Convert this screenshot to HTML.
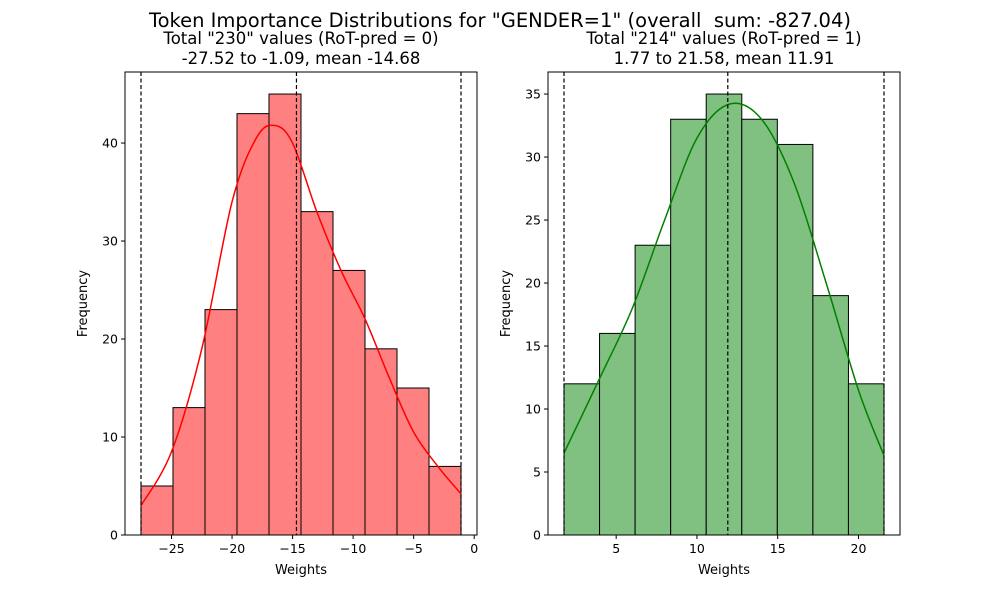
<!DOCTYPE html>
<html><head><meta charset="utf-8"><style>
body{margin:0;background:#fff;font-family:"Liberation Sans","DejaVu Sans",sans-serif}
svg text{font-family:"DejaVu Sans","Liberation Sans",sans-serif;fill:#000;white-space:pre}
</style></head><body>
<svg id="c" width="1000" height="600" viewBox="0 0 1000 600">
<text x="500" y="27" font-size="19.5" text-anchor="middle" xml:space="preserve">Token Importance Distributions for "GENDER=1" (overall  sum: -827.04)</text>
</svg>
<script>
const leftCounts=[5,13,23,43,45,33,27,19,15,7];
const leftRange=[-27.52,-1.09];const leftMean=-14.68;
const leftXTicks=[-25,-20,-15,-10,-5,0];const leftYTicks=[0,10,20,30,40];
const leftKdeX=[-27.52,-25,-22.5,-20,-18,-16.5,-15,-13,-11,-9,-7,-5,-3,-1.09];
const leftKdeY=[3,8.5,19,34,40.5,41.8,40,33,27,22,16,10.5,7,4.2];
const rightCounts=[12,16,23,33,35,33,31,19,12];
const rightRange=[1.77,21.58];const rightMean=11.91;
const rightXTicks=[5,10,15,20];const rightYTicks=[0,5,10,15,20,25,30,35];
const rightKdeX=[1.77,4,6,8,10,12,14,16,18,20,21.58];
const rightKdeY=[6.5,12.5,18,25,31.5,34.2,33,28,20,11.5,6.3];
const svg=document.getElementById('c');const NS='http://www.w3.org/2000/svg';
function mk(t,a,p){const e=document.createElementNS(NS,t);for(const k in a)e.setAttribute(k,a[k]);(p||svg).appendChild(e);return e;}
function panel(name,L,R,counts,range,mean,xt,yt,kx,ky,fill,line,t1,t2){
 const T=72,B=535;const span=range[1]-range[0];const x0=range[0]-span*0.05,x1=range[1]+span*0.05;
 const ymax=Math.max(...counts)*1.05;
 const X=v=>L+(v-x0)/(x1-x0)*(R-L);const Y=v=>B-v/ymax*(B-T);
 const g=mk('g',{});
 const w=span/counts.length;
 counts.forEach((c,i)=>{const r=mk('rect',{x:X(range[0]+i*w),y:Y(c),width:X(range[0]+(i+1)*w)-X(range[0]+i*w),height:B-Y(c),fill:fill,stroke:'#000','stroke-width':1},g);
  });
 const pts=kx.map((v,i)=>[X(v),Y(ky[i])]);let d='M'+pts[0][0]+','+pts[0][1];
 for(let i=0;i<pts.length-1;i++){const p0=pts[Math.max(0,i-1)],p1=pts[i],p2=pts[i+1],p3=pts[Math.min(pts.length-1,i+2)];
  d+=' C'+(p1[0]+(p2[0]-p0[0])/6)+','+(p1[1]+(p2[1]-p0[1])/6)+' '+(p2[0]-(p3[0]-p1[0])/6)+','+(p2[1]-(p3[1]-p1[1])/6)+' '+p2[0]+','+p2[1];}
 const k=mk('path',{d:d,fill:'none',stroke:line,'stroke-width':1.5},g);
 [range[0],mean,range[1]].forEach((v,i)=>{const l=mk('line',{x1:X(v),x2:X(v),y1:T,y2:B,stroke:'#000','stroke-width':1.2,'stroke-dasharray':'4,2.5'},g);
  });
 const f=mk('rect',{x:L,y:T,width:R-L,height:B-T,fill:'none',stroke:'#000','stroke-width':1},g);
 xt.forEach(v=>{mk('line',{x1:X(v),x2:X(v),y1:B,y2:B+4,stroke:'#000'},g);const t=mk('text',{x:X(v),y:B+18,'font-size':12.5,'text-anchor':'middle'},g);t.textContent=(v<0?'\u2212'+(-v):v);
  });
 yt.forEach(v=>{mk('line',{x1:L-4,x2:L,y1:Y(v),y2:Y(v),stroke:'#000'},g);const t=mk('text',{x:L-7,y:Y(v)+4.5,'font-size':12.5,'text-anchor':'end'},g);t.textContent=v;
  });
 const xl=mk('text',{x:(L+R)/2,y:574,'font-size':13,'text-anchor':'middle'},g);xl.textContent='Weights';
 const yl=mk('text',{x:0,y:0,'font-size':13,'text-anchor':'middle',transform:'translate('+(L-38)+','+((T+B)/2)+') rotate(-90)'},g);yl.textContent='Frequency';
 const a=mk('text',{x:(L+R)/2,y:44,'font-size':16.5,'text-anchor':'middle'},g);a.textContent=t1;
 const b=mk('text',{x:(L+R)/2,y:64,'font-size':16.5,'text-anchor':'middle'},g);b.textContent=t2;
}
panel('left',125,477,leftCounts,leftRange,leftMean,leftXTicks,leftYTicks,leftKdeX,leftKdeY,'#ff8080','#ff0000','Total "230" values (RoT-pred = 0)','-27.52 to -1.09, mean -14.68');
panel('right',548,900,rightCounts,rightRange,rightMean,rightXTicks,rightYTicks,rightKdeX,rightKdeY,'#80c080','#008000','Total "214" values (RoT-pred = 1)','1.77 to 21.58, mean 11.91');
</script>
</body></html>
